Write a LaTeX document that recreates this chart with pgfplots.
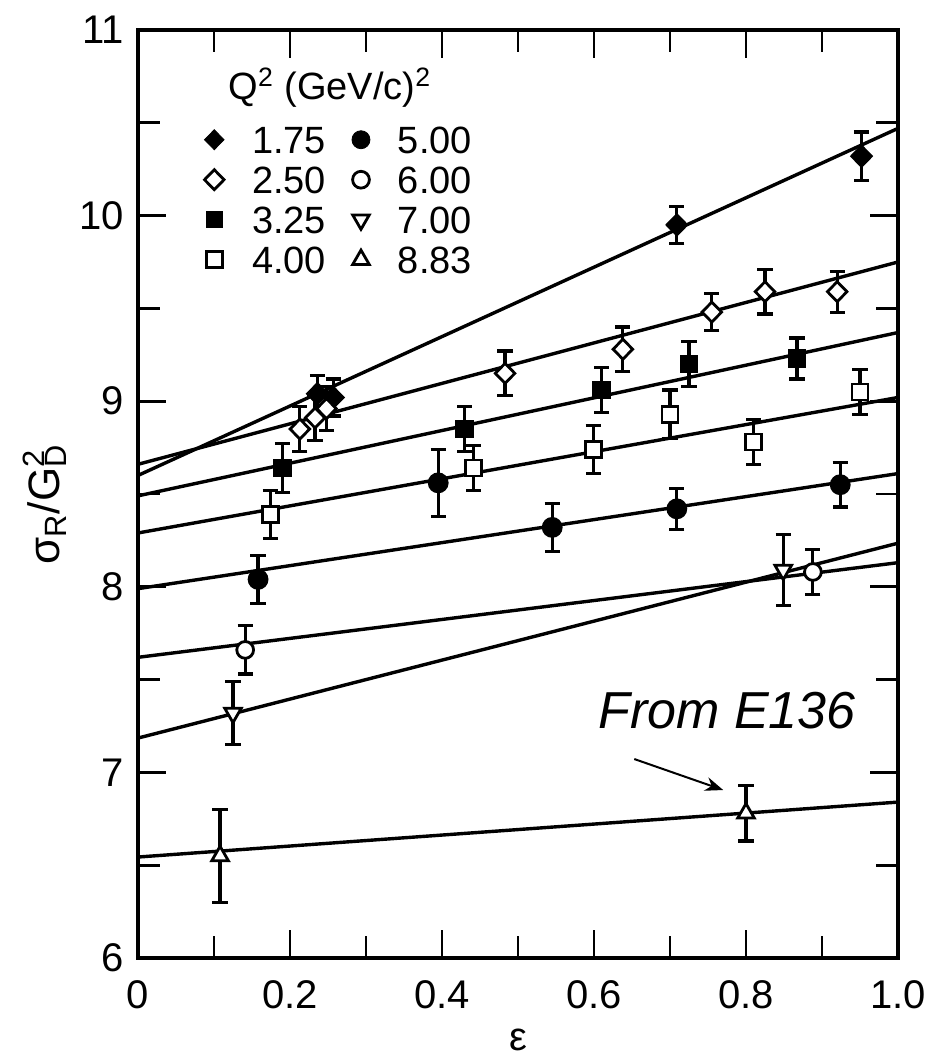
\documentclass[border=0pt]{standalone}
\usepackage{pgfplots}
\usepackage{pgfplotstable}
\pgfplotsset{compat=1.18}
\usepackage{fontspec}
\setmainfont{Liberation Sans}
\usetikzlibrary{arrows.meta}

% Reduced cross section sigma_R/G_D^2 versus epsilon, one table per Q^2
\pgfplotstableread{
x y e
0.236 9.04 0.10
0.257 9.02 0.10
0.709 9.95 0.10
0.952 10.32 0.13
}\qA
\pgfplotstableread{
x y e
0.213 8.85 0.12
0.233 8.91 0.12
0.248 8.96 0.12
0.483 9.15 0.12
0.638 9.28 0.12
0.755 9.48 0.10
0.825 9.59 0.12
0.920 9.59 0.11
}\qB
\pgfplotstableread{
x y e
0.190 8.64 0.13
0.430 8.85 0.12
0.610 9.06 0.12
0.725 9.20 0.12
0.867 9.23 0.11
}\qC
\pgfplotstableread{
x y e
0.174 8.39 0.13
0.441 8.64 0.12
0.599 8.74 0.13
0.700 8.93 0.13
0.810 8.78 0.12
0.950 9.05 0.12
}\qD
\pgfplotstableread{
x y e
0.158 8.04 0.13
0.395 8.56 0.18
0.545 8.32 0.13
0.709 8.42 0.11
0.924 8.55 0.12
}\qE
\pgfplotstableread{
x y e
0.141 7.66 0.13
0.888 8.08 0.12
}\qF
\pgfplotstableread{
x y e
0.125 7.32 0.17
0.849 8.09 0.19
}\qG
\pgfplotstableread{
x y e
0.108 6.55 0.25
0.800 6.78 0.15
}\qH

\pgfplotsset{
  pts/.style={only marks, black, line width=1.4pt, forget plot,
    error bars/y dir=both, error bars/y explicit,
    error bars/error bar style={line width=1.6pt, black},
    error bars/error mark options={rotate=90, mark size=3.8pt, line width=1.6pt}},
  fit/.style={no marks, black, line width=1.7pt, forget plot},
  legend image code/.code={\draw[#1] plot coordinates {(0pt,0pt)};}
}

\begin{document}
\begin{tikzpicture}
\useasboundingbox (-69pt,-53pt) rectangle (395pt,479pt);
\begin{axis}[
  at={(0,0)}, anchor=south west,
  scale only axis, width=380pt, height=464pt,
  xmin=0, xmax=1, ymin=6, ymax=11,
  xtick={0,0.2,0.4,0.6,0.8,1},
  xticklabels={0,0.2,0.4,0.6,0.8,1.0},
  minor xtick={0.1,0.3,0.5,0.7,0.9},
  ytick={6,7,8,9,10,11},
  minor ytick={6.5,7.5,8.5,9.5,10.5},
  tick align=inside,
  major tick length=14pt, minor tick length=11pt,
  tick style={line width=1.4pt, black},
  axis line style={line width=1.8pt},
  /pgf/number format/assume math mode=true,
  ticklabel style={font=\fontsize{20}{20}\selectfont},
  xticklabel style={inner sep=0pt, yshift=-11pt},
  yticklabel style={inner sep=0pt, xshift=-7pt},
  xlabel={ε},
  ylabel={σ\textsubscript{R}/G\rlap{\textsubscript{D}}\textsuperscript{2}},
  label style={font=\fontsize{22}{22}\selectfont},
  xlabel style={at={(axis description cs:0.5,-0.088)}, anchor=center,
    font=\fontsize{20}{20}\selectfont, inner sep=0pt},
  ylabel style={at={(axis description cs:-0.1224,0.486)}, anchor=center},
  legend columns=2,
  legend cell align=left,
  legend style={at={(rel axis cs:0.087,0.899)}, anchor=north west,
    draw=none, fill=none, inner sep=0pt,
    font=\fontsize{19}{19}\selectfont,
    nodes={inner sep=1pt, text height=13.6pt, text depth=0pt},
    row sep=4.4pt,
    /tikz/every odd column/.append style={column sep=13pt},
    /tikz/every even column/.append style={column sep=12pt}},
]
% linear fits in epsilon
\addplot[fit] coordinates {(0,8.600) (1,10.47)};
\addplot[fit] coordinates {(0,8.660) (1,9.750)};
\addplot[fit] coordinates {(0,8.490) (1,9.370)};
\addplot[fit] coordinates {(0,8.290) (1,9.020)};
\addplot[fit] coordinates {(0,7.990) (1,8.610)};
\addplot[fit] coordinates {(0,7.620) (1,8.130)};
\addplot[fit] coordinates {(0,7.185) (1,8.235)};
\addplot[fit] coordinates {(0,6.544) (1,6.840)};

% measured points
\addplot[pts, mark=diamond*, mark size=5pt, mark options={xscale=1.3}] table[x=x, y=y, y error=e] {\qA};
\addplot[pts, mark=diamond*, mark size=5pt, mark options={xscale=1.3, fill=white}] table[x=x, y=y, y error=e] {\qB};
\addplot[pts, mark=square*, mark size=4pt] table[x=x, y=y, y error=e] {\qC};
\addplot[pts, mark=square*, mark size=4pt, mark options={fill=white}] table[x=x, y=y, y error=e] {\qD};
\addplot[pts, mark=*, mark size=4.5pt] table[x=x, y=y, y error=e] {\qE};
\addplot[pts, mark=*, mark size=4.2pt, mark options={fill=white}] table[x=x, y=y, y error=e] {\qF};
\addplot[pts, mark=triangle*, mark size=4.8pt, mark options={rotate=180, fill=white}] table[x=x, y=y, y error=e] {\qG};
\addplot[pts, mark=triangle*, mark size=4.8pt, mark options={fill=white}] table[x=x, y=y, y error=e] {\qH};

% legend, filled row by row
\addlegendimage{only marks, black, mark=diamond*, mark size=5pt, mark options={xscale=1.3}}
\addlegendentry{1.75}
\addlegendimage{only marks, black, mark=*, mark size=4.5pt}
\addlegendentry{5.00}
\addlegendimage{only marks, black, line width=1.4pt, mark=diamond*, mark size=5pt, mark options={xscale=1.3, fill=white}}
\addlegendentry{2.50}
\addlegendimage{only marks, black, line width=1.4pt, mark=*, mark size=4.2pt, mark options={fill=white}}
\addlegendentry{6.00}
\addlegendimage{only marks, black, mark=square*, mark size=4pt}
\addlegendentry{3.25}
\addlegendimage{only marks, black, line width=1.4pt, mark=triangle*, mark size=4.8pt, mark options={rotate=180, fill=white}}
\addlegendentry{7.00}
\addlegendimage{only marks, black, line width=1.4pt, mark=square*, mark size=4pt, mark options={fill=white}}
\addlegendentry{4.00}
\addlegendimage{only marks, black, line width=1.4pt, mark=triangle*, mark size=4.8pt, mark options={fill=white}}
\addlegendentry{8.83}

\node[font=\fontsize{19}{19}\selectfont] at (axis cs:0.2526,10.69)
  {Q\textsuperscript{2} (GeV/c)\textsuperscript{2}};

\node[font=\fontsize{26}{26}\selectfont\itshape, anchor=base] at (axis cs:0.775,7.239) {From E136};
\draw[line width=1pt, -{Stealth[length=9pt, width=7pt]}] (axis cs:0.653,7.072) -- (axis cs:0.770,6.905);
\end{axis}
\end{tikzpicture}
\end{document}
